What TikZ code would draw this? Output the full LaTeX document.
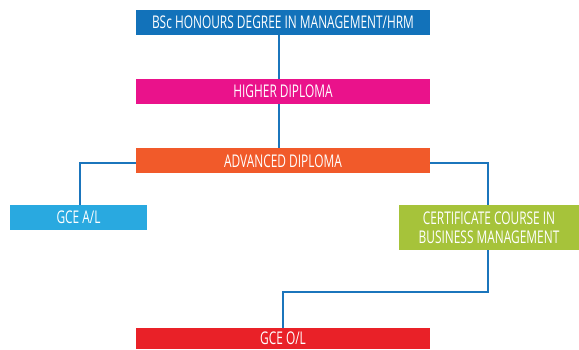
\documentclass[tikz,border=0pt]{standalone}
\usepackage{fontspec}
\newfontfamily\boxfont[FakeStretch=0.68]{Open Sans}
\usepackage{xcolor}
\definecolor{degblue}{RGB}{18, 114, 186}
\definecolor{hdpink}{RGB}{234, 18, 139}
\definecolor{adorange}{RGB}{241, 90, 42}
\definecolor{alblue}{RGB}{41, 169, 224}
\definecolor{certgreen}{RGB}{166, 195, 58}
\definecolor{olred}{RGB}{233, 33, 40}
\definecolor{linkblue}{RGB}{27, 117, 188}
\usepackage{tikz}
\usetikzlibrary{
    positioning
}
\tikzstyle{box} = [
    rectangle,
    minimum width=294pt,
    minimum height=25pt,
    inner sep=0pt,
    text centered,
    align=center,
    text=white,
    font=\boxfont\fontsize{17.5}{18.5}\selectfont
]
\tikzstyle{link} = [
    draw=linkblue,
    line width=2pt
]

\begin{document}
\begin{tikzpicture}[
	x=1pt, y=1pt,
	node distance=44pt and 0pt
]
\useasboundingbox (0,0) rectangle (579,-349);

\node (bsc) [box, fill=degblue] at (283,-22)
    {BSc HONOURS DEGREE IN MANAGEMENT/HRM};
\node (higher) [box, fill=hdpink, below=of bsc]
    {HIGHER DIPLOMA};
\node (advanced) [box, fill=adorange, below=of higher]
    {ADVANCED DIPLOMA};
\node (gceal) [box, fill=alblue, minimum width=137pt] at (78.5,-217.5)
    {GCE A/L};
\node (cert) [box, fill=certgreen, minimum width=180pt, minimum height=45pt] at (489,-227.5)
    {CERTIFICATE COURSE IN\\BUSINESS MANAGEMENT};
\node (gceol) [box, fill=olred, minimum height=21pt] at (283,-338.5)
    {GCE O/L};

\draw [link] ([xshift=-4pt]bsc.south) -- ([xshift=-4pt]higher.north);
\draw [link] ([xshift=-4pt]higher.south) -- ([xshift=-4pt]advanced.north);
\draw [link] ([yshift=-2.5pt]advanced.west) -| ([xshift=1.5pt]gceal.north);
\draw [link] ([yshift=-2.5pt]advanced.east) -| ([xshift=-1pt]cert.north);

% down to O/L
\draw [link] ([xshift=-1pt]cert.south) -- ++(0,-42) -| (gceol.north);

\end{tikzpicture}
\end{document}
